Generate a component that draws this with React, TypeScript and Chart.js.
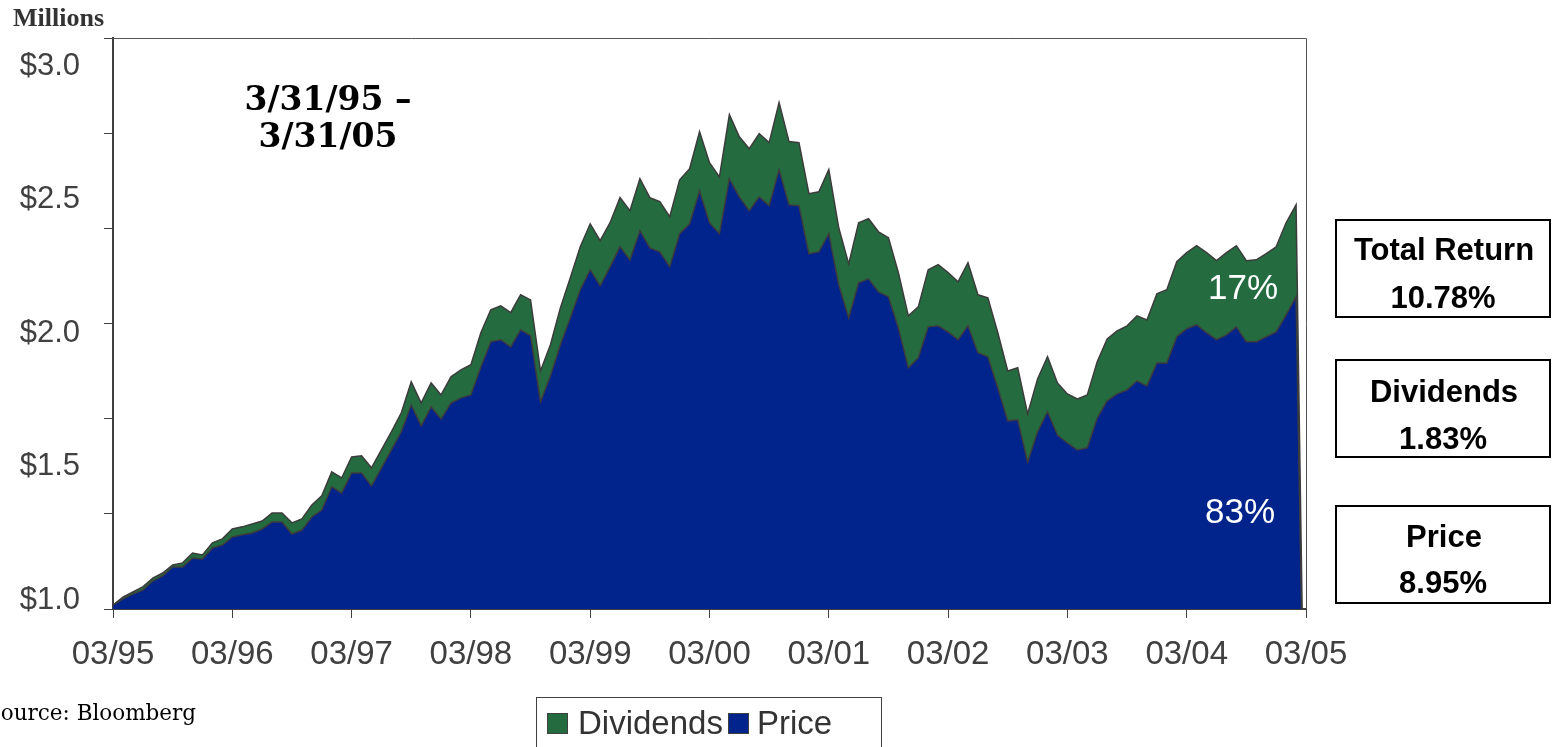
import React, { useEffect, useRef } from "react";
import { Chart, registerables } from "chart.js";

Chart.register(...registerables);

// ---- data ----
const yearTicks: string[] = ["03/95", "03/96", "03/97", "03/98", "03/99", "03/00", "03/01", "03/02", "03/03", "03/04", "03/05"];

// monthly categories 03/95 .. 03/05
const months: string[] = (() => {
  const out: string[] = [];
  for (let i = 0; i <= 120; i++) {
    const m = ((2 + i) % 12) + 1;
    const y = (95 + Math.floor((2 + i) / 12)) % 100;
    out.push(String(m).padStart(2, "0") + "/" + String(y).padStart(2, "0"));
  }
  return out;
})();

const priceValues: number[] = [
  0.981, 1.004, 1.022, 1.037, 1.071, 1.090, 1.124, 1.124, 1.157, 1.154,
  1.195, 1.206, 1.236, 1.244, 1.251, 1.266, 1.292, 1.292, 1.247, 1.262,
  1.311, 1.337, 1.424, 1.401, 1.476, 1.476, 1.427, 1.495, 1.562, 1.630,
  1.731, 1.652, 1.723, 1.678, 1.738, 1.757, 1.768, 1.873, 1.967, 1.975,
  1.948, 2.012, 1.990, 1.742, 1.840, 1.956, 2.057, 2.162, 2.237, 2.177,
  2.248, 2.323, 2.274, 2.383, 2.319, 2.304, 2.248, 2.372, 2.409, 2.533,
  2.413, 2.372, 2.578, 2.510, 2.458, 2.510, 2.477, 2.612, 2.480, 2.477,
  2.297, 2.304, 2.372, 2.181, 2.057, 2.188, 2.203, 2.154, 2.136, 2.019,
  1.870, 1.907, 2.023, 2.027, 2.004, 1.975, 2.027, 1.926, 1.911, 1.795,
  1.671, 1.675, 1.517, 1.630, 1.705, 1.618, 1.588, 1.562, 1.570, 1.682,
  1.746, 1.772, 1.787, 1.821, 1.802, 1.888, 1.888, 1.986, 2.016, 2.031,
  2.001, 1.975, 1.993, 2.023, 1.967, 1.967, 1.986, 2.004, 2.068, 2.136,
  0,
];

const dividendValues: number[] = [
  0.000, 0.007, 0.008, 0.012, 0.011, 0.011, 0.007, 0.015, 0.019, 0.015,
  0.019, 0.023, 0.030, 0.030, 0.034, 0.030, 0.034, 0.034, 0.042, 0.042,
  0.045, 0.053, 0.056, 0.056, 0.060, 0.064, 0.068, 0.067, 0.068, 0.071,
  0.086, 0.086, 0.090, 0.090, 0.098, 0.105, 0.113, 0.128, 0.120, 0.127,
  0.128, 0.131, 0.134, 0.116, 0.116, 0.138, 0.150, 0.161, 0.172, 0.169,
  0.165, 0.184, 0.184, 0.195, 0.188, 0.188, 0.188, 0.202, 0.206, 0.221,
  0.225, 0.213, 0.240, 0.225, 0.232, 0.237, 0.236, 0.251, 0.237, 0.236,
  0.225, 0.225, 0.240, 0.213, 0.202, 0.225, 0.225, 0.225, 0.221, 0.207,
  0.194, 0.191, 0.214, 0.229, 0.222, 0.217, 0.236, 0.217, 0.221, 0.206,
  0.187, 0.195, 0.180, 0.198, 0.206, 0.195, 0.184, 0.191, 0.198, 0.210,
  0.232, 0.236, 0.240, 0.243, 0.247, 0.259, 0.274, 0.281, 0.285, 0.296,
  0.300, 0.296, 0.308, 0.304, 0.304, 0.307, 0.311, 0.319, 0.345, 0.344,
  0,
];

const yLabelValues: number[] = [1.0, 1.5, 2.0, 2.5, 3.0];
const Y_MIN = 0.9663;
const Y_MAX = 3.1049;
const Y_MARK_COUNT = 6;

const summaryBoxes = [
  { title: "Total Return", value: "10.78%" },
  { title: "Dividends", value: "1.83%" },
  { title: "Price", value: "8.95%" },
];
const shareLabels = { dividends: "17%", price: "83%" };

const BLUE = "#00238C";
const GREEN = "#246C40";
const LINE = "#3c3c3c";
const AXIS = "#404040";

const isLabelValue = (v: number) => yLabelValues.some((l) => Math.abs(l - v) < 1e-6);

const framePlugin = {
  id: "frame",
  afterDraw(chart: any) {
    const { ctx, chartArea } = chart;
    const { left, top, right, bottom } = chartArea;
    ctx.save();
    ctx.strokeStyle = "#555";
    ctx.lineWidth = 1;
    ctx.beginPath();
    ctx.moveTo(left, Math.round(top) + 0.5);
    ctx.lineTo(Math.round(right) + 0.5, Math.round(top) + 0.5);
    ctx.lineTo(Math.round(right) + 0.5, bottom);
    ctx.stroke();
    ctx.restore();
  },
};

const Txt = (p: { x: number; y: number; w: number; h: number; align?: any; style?: any; children: any }) => (
  <div
    style={{
      position: "absolute",
      left: p.x,
      top: p.y - p.h / 2,
      width: p.w,
      height: p.h,
      lineHeight: p.h + "px",
      textAlign: p.align || "center",
      whiteSpace: "nowrap",
      ...p.style,
    }}
  >
    {p.children}
  </div>
);

export default function App() {
  const ref = useRef<HTMLCanvasElement | null>(null);

  useEffect(() => {
    if (!ref.current) return;
    const chart = new Chart(ref.current, {
      type: "line",
      data: {
        labels: months,
        datasets: [
          {
            label: "Price",
            data: priceValues,
            backgroundColor: BLUE,
            borderColor: LINE,
            borderWidth: 1.5,
            fill: "origin",
            pointRadius: 0,
            tension: 0,
          },
          {
            label: "Dividends",
            data: dividendValues,
            backgroundColor: GREEN,
            borderColor: LINE,
            borderWidth: 1.5,
            fill: "-1",
            pointRadius: 0,
            tension: 0,
          },
        ],
      },
      options: {
        animation: false,
        responsive: false,
        maintainAspectRatio: false,
        layout: { padding: { left: 0, top: 38, right: 246, bottom: 0 } },
        plugins: {
          legend: { display: false },
          tooltip: { enabled: false },
        },
        scales: {
          x: {
            type: "category",
            offset: false,
            grid: {
              display: true,
              drawOnChartArea: false,
              drawTicks: true,
              tickLength: 9,
              color: AXIS,
              lineWidth: 1,
            },
            border: { display: true, color: AXIS, width: 2 },
            ticks: {
              autoSkip: false,
              maxRotation: 0,
              minRotation: 0,
              padding: 17,
              color: AXIS,
              font: { family: "'Liberation Sans', Arial, sans-serif", size: 33 },
              callback: function (this: any, value: any) {
                const lab = months[value as number];
                return yearTicks.includes(lab) ? lab : "";
              },
            },
            afterBuildTicks: (scale: any) => {
              scale.ticks = scale.ticks.filter((t: any) => yearTicks.includes(months[t.value]));
            },
            afterFit: (scale: any) => {
              scale.height = 138;
              scale.paddingLeft = 0;
              scale.paddingRight = 0;
            },
          },
          y: {
            type: "linear",
            stacked: true,
            min: Y_MIN,
            max: Y_MAX,
            grid: {
              display: true,
              drawOnChartArea: false,
              drawTicks: true,
              tickLength: 9,
              lineWidth: 1,
              color: (ctx: any) => (ctx.tick && isLabelValue(ctx.tick.value) ? "rgba(0,0,0,0)" : AXIS),
            },
            border: { display: true, color: AXIS, width: 2 },
            ticks: {
              autoSkip: false,
              padding: 24,
              color: AXIS,
              font: { family: "'Liberation Sans', Arial, sans-serif", size: 31 },
              callback: (v: any) => (isLabelValue(Number(v)) ? "$" + Number(v).toFixed(1) : ""),
            },
            afterBuildTicks: (scale: any) => {
              const marks = [];
              for (let i = 0; i <= Y_MARK_COUNT; i++) {
                marks.push({ value: Y_MIN + ((Y_MAX - Y_MIN) * i) / Y_MARK_COUNT });
              }
              const labs = yLabelValues.map((v) => ({ value: v }));
              scale.ticks = [...marks, ...labs].sort((a, b) => a.value - b.value);
            },
            afterFit: (scale: any) => {
              scale.width = 113;
              scale.paddingTop = 0;
              scale.paddingBottom = 0;
            },
          },
        },
      },
      plugins: [framePlugin],
    });
    return () => chart.destroy();
  }, []);

  const sans = "'Liberation Sans', Arial, sans-serif";
  const boxTops = [219, 359, 505];
  const lineOffsets = [[31, 79], [33, 80], [32, 78]];

  return (
    <div
      style={{
        position: "absolute",
        left: 0,
        top: 0,
        width: 1552,
        height: 747,
        overflow: "hidden",
        background: "#fff",
      }}
    >
      <canvas ref={ref} width={1552} height={747} style={{ position: "absolute", left: 0, top: 0, display: "block" }} />

      <Txt x={13} y={18} w={120} h={30} align="left" style={{ fontFamily: "'Liberation Serif', serif", fontWeight: "bold", fontSize: 26, color: "#333" }}>
        Millions
      </Txt>

      <Txt x={178} y={99} w={300} h={38} style={{ fontFamily: "'DejaVu Serif', serif", fontWeight: "bold", fontSize: 33, color: "#000" }}>
        3/31/95 –
      </Txt>
      <Txt x={178} y={136} w={300} h={38} style={{ fontFamily: "'DejaVu Serif', serif", fontWeight: "bold", fontSize: 33, color: "#000" }}>
        3/31/05
      </Txt>

      <Txt x={1143} y={287} w={200} h={40} style={{ fontFamily: sans, fontSize: 35, color: "#fff" }}>
        {shareLabels.dividends}
      </Txt>
      <Txt x={1140} y={511} w={200} h={40} style={{ fontFamily: sans, fontSize: 35, color: "#fff" }}>
        {shareLabels.price}
      </Txt>

      {summaryBoxes.map((b, i) => (
        <React.Fragment key={b.title}>
          <div
            style={{
              position: "absolute",
              left: 1335,
              top: boxTops[i],
              width: 216,
              height: 99,
              border: "2px solid #000",
              boxSizing: "border-box",
              background: "#fff",
            }}
          />
          <Txt x={1335} y={boxTops[i] + lineOffsets[i][0]} w={218} h={36} style={{ fontFamily: sans, fontWeight: "bold", fontSize: 31, color: "#000" }}>
            {b.title}
          </Txt>
          <Txt x={1335} y={boxTops[i] + lineOffsets[i][1]} w={216} h={36} style={{ fontFamily: sans, fontWeight: "bold", fontSize: 31, color: "#000" }}>
            {b.value}
          </Txt>
        </React.Fragment>
      ))}

      <Txt x={-14} y={713} w={280} h={28} align="left" style={{ fontFamily: "'DejaVu Serif', serif", fontSize: 21.5, color: "#000" }}>
        Source: Bloomberg
      </Txt>

      <div
        style={{
          position: "absolute",
          left: 536,
          top: 697,
          width: 346,
          height: 70,
          border: "1px solid #404040",
          boxSizing: "border-box",
        }}
      />
      <div style={{ position: "absolute", left: 547, top: 713, width: 21, height: 21, background: GREEN, border: "1px solid #404040", boxSizing: "border-box" }} />
      <Txt x={578} y={723} w={160} h={36} align="left" style={{ fontFamily: sans, fontSize: 33, color: "#333" }}>
        Dividends
      </Txt>
      <div style={{ position: "absolute", left: 728, top: 713, width: 21, height: 21, background: BLUE, border: "1px solid #404040", boxSizing: "border-box" }} />
      <Txt x={757} y={723} w={120} h={36} align="left" style={{ fontFamily: sans, fontSize: 33, color: "#333" }}>
        Price
      </Txt>
    </div>
  );
}
